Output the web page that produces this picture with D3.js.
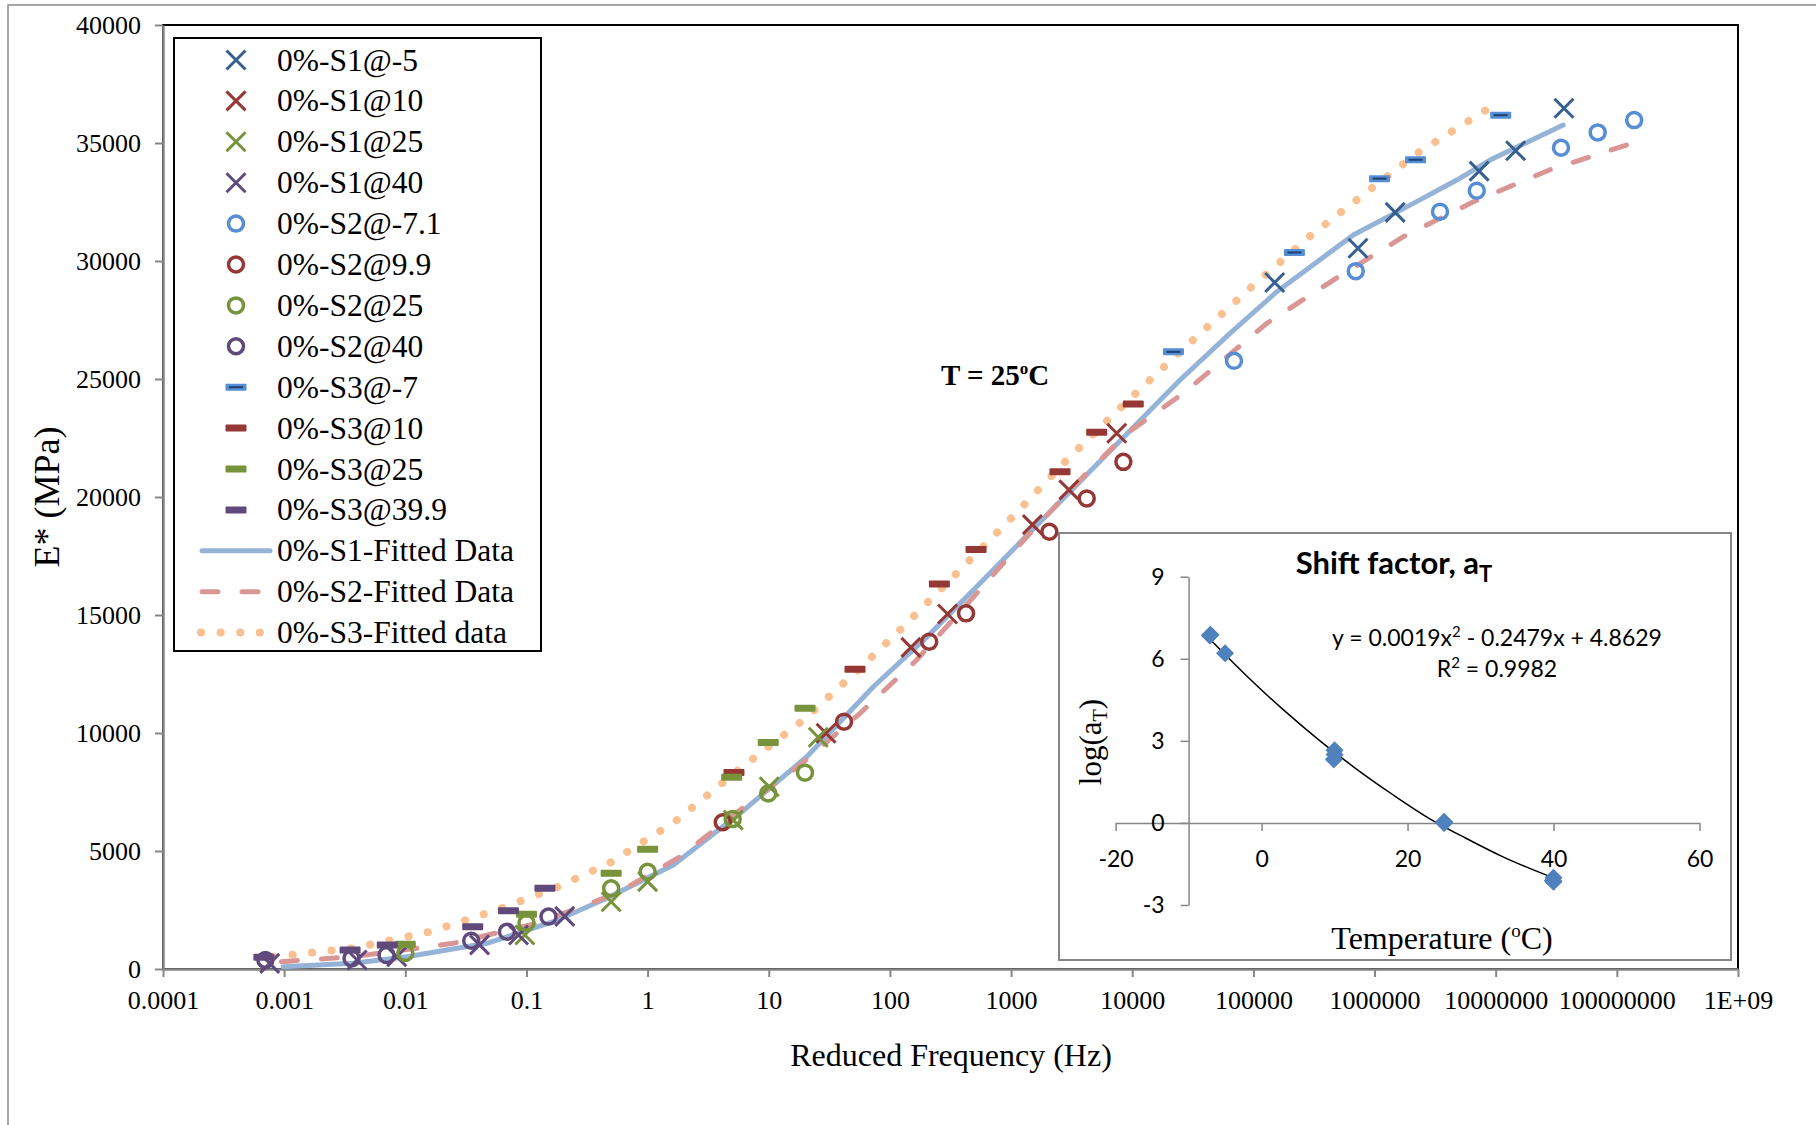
<!DOCTYPE html>
<html>
<head>
<meta charset="utf-8">
<script src="https://cdn.jsdelivr.net/npm/d3@7/dist/d3.min.js"></script>
<style>
	body { margin: 0; background: #fff; }
	svg { display: block; }
	.serif { font-family: "Liberation Serif", "Times New Roman", serif; }
	.sans { font-family: Lato, "Liberation Sans", sans-serif; }
</style>
</head>
<body>
<div id="chart"></div>
<script>
// ---- main chart data (frequency in Hz, E* in MPa) ----
const s1m5Freq = [1.5e5, 7.3e5, 1.48e6, 7.3e6, 1.46e7, 3.66e7]
const s1m5E = [29090, 30540, 32060, 33810, 34670, 36470]
const s1p10Freq = [29.7, 149, 299, 1500, 3000, 7450]
const s1p10E = [9990, 13630, 15040, 18830, 20300, 22700]
const s1p25Freq = [0.097, 0.5, 1.0, 5.1, 10.1, 25.6]
const s1p25E = [1440, 2850, 3700, 6310, 7720, 9820]
const s1p40Freq = [0.00076, 0.004, 0.0085, 0.041, 0.086, 0.207]
const s1p40E = [240, 380, 520, 1020, 1440, 2230]

const s2m71Freq = [6.92e4, 7.0e5, 3.47e6, 6.98e6, 3.46e7, 6.95e7, 1.39e8]
const s2m71E = [25770, 29570, 32090, 32980, 34800, 35450, 35970]
const s2p99Freq = [4.17, 41.8, 211, 425, 2070, 4210, 8450]
const s2p99E = [6220, 10480, 13870, 15070, 18530, 19940, 21490]
const s2p25Freq = [0.01, 0.1, 0.5, 1.0, 5.04, 9.9, 19.9]
const s2p25E = [680, 1960, 3420, 4120, 6360, 7440, 8320]
const s2p40Freq = [0.0007, 0.0036, 0.007, 0.035, 0.069, 0.152]
const s2p40E = [380, 450, 590, 1200, 1580, 2220]

const s3m7Freq = [2.19e4, 2.18e5, 1.1e6, 2.18e6, 1.1e7]
const s3m7E = [26150, 30360, 33490, 34290, 36180]
const s3p10Freq = [5.16, 51.5, 256, 514, 2535, 5090, 10200]
const s3p10E = [8330, 12700, 16310, 17780, 21070, 22740, 23940]
const s3p25Freq = [0.01, 0.1, 0.5, 1.0, 4.94, 9.9, 19.9]
const s3p25E = [1050, 2320, 4060, 5070, 8120, 9600, 11050]
const s3p399Freq = [0.00068, 0.0035, 0.0071, 0.036, 0.071, 0.142]
const s3p399E = [500, 810, 1020, 1790, 2470, 3420]

// fitted master curves
const fit1Freq = [0.00098, 0.0037, 0.0103, 0.047, 0.167, 0.46, 1.63, 5.8, 20.6, 73, 201, 714, 2540, 9020, 24800, 64100, 156000, 668000, 2.09e6, 4.78e6, 8.97e6, 3.61e7]
const fit1E = [97, 242, 521, 1089, 2004, 2996, 4407, 6597, 8995, 11961, 14054, 16919, 19800, 22668, 24956, 26935, 28698, 31100, 32443, 33430, 34277, 35760]
const fit2Freq = [0.00095, 0.0037, 0.0249, 0.122, 0.556, 1.85, 5.8, 18.1, 56.6, 166, 520, 1350, 3480, 9020, 26400, 129000, 457000, 1.73e6, 6.55e6, 2.81e7, 1.46e8]
const fit2E = [309, 521, 1089, 1936, 3207, 4758, 6737, 8643, 10834, 13092, 15918, 18317, 20579, 22697, 24393, 27358, 29193, 31028, 32511, 33867, 35053]
const fit3Freq = [0.00081, 0.0037, 0.016, 0.0568, 0.183, 0.49, 1.68, 5.61, 19.3, 58.5, 129, 367, 1045, 2880, 8450, 24800, 97000, 294000, 948000, 2.27e6, 5.89e6, 1.1e7]
const fit3E = [521, 877, 1580, 2500, 3487, 4504, 6241, 8432, 10550, 12809, 14504, 16834, 19194, 21566, 23897, 26155, 28909, 31057, 33079, 34578, 35913, 36790]

const xTickValues = [1e-4, 1e-3, 1e-2, 1e-1, 1, 10, 100, 1000, 1e4, 1e5, 1e6, 1e7, 1e8, 1e9]
const xTickLabels = ["0.0001", "0.001", "0.01", "0.1", "1", "10", "100", "1000", "10000", "100000", "1000000", "10000000", "100000000", "1E+09"]
const yTickValues = [0, 5000, 10000, 15000, 20000, 25000, 30000, 35000, 40000]

// ---- inset: shift factor ----
const shiftTemp = [-7.1, -7, -5, 9.9, 10, 10, 25, 25, 25, 40, 40, 39.9]
const shiftLogAT = [6.85, 6.88, 6.2, 2.32, 2.66, 2.5, 0.04, 0.0, 0.02, -2.0, -2.15, -2.1]
const trendTemp = [-7.1, -2, 3, 8, 13, 18, 23, 28, 33, 40]
const trendLogAT = [6.72, 5.36, 4.13, 3.0, 1.97, 1.03, 0.16, -0.56, -1.23, -2.01]
const insetXTicks = [-20, 0, 20, 40, 60]
const insetYTicks = [-3, 0, 3, 6, 9]

const W = 1816, H = 1125

const svg = d3.select("#chart").append("svg")
	.attr("width", W)
	.attr("height", H)

// outer chart frame (cut by the picture edge)
svg.append("rect")
	.attr("x", 8).attr("y", 5)
	.attr("width", W + 20).attr("height", H + 20)
	.attr("fill", "#fff")
	.attr("stroke", "#8a8a8a")
	.attr("stroke-width", 1.5)

const xs = d3.scaleLog().domain([1e-4, 1e9]).range([163, 1738])
const ys = d3.scaleLinear().domain([0, 40000]).range([969, 25])

// plot area border
svg.append("rect")
	.attr("x", 163).attr("y", 25)
	.attr("width", 1738 - 163).attr("height", 969 - 25)
	.attr("fill", "none")
	.attr("stroke", "#000")
	.attr("stroke-width", 2)

const yAxis = svg.append("g")
	.attr("transform", "translate(163,0)")
	.call(d3.axisLeft(ys).tickValues(yTickValues).tickSize(8).tickSizeOuter(0).tickPadding(14)
		.tickFormat(d => String(d)))
const xAxis = svg.append("g")
	.attr("transform", "translate(0,969)")
	.call(d3.axisBottom(xs).tickValues(xTickValues).tickSize(8).tickSizeOuter(0).tickPadding(14)
		.tickFormat((d, i) => xTickLabels[i]))

;[yAxis, xAxis].forEach(a => {
	a.select(".domain").attr("stroke", "#868686").attr("stroke-width", 2.5)
	a.selectAll(".tick line").attr("stroke", "#868686").attr("stroke-width", 2)
	a.selectAll(".tick text")
		.attr("class", "serif")
		.attr("font-size", 26)
		.attr("fill", "#000")
})

svg.append("text")
	.attr("class", "serif")
	.attr("transform", "translate(59,497) rotate(-90)")
	.attr("text-anchor", "middle")
	.attr("font-size", 36)
	.text("E* (MPa)")

svg.append("text")
	.attr("class", "serif")
	.attr("x", 951).attr("y", 1066)
	.attr("text-anchor", "middle")
	.attr("font-size", 32)
	.text("Reduced Frequency (Hz)")

// fitted lines
const fits = [
	{ f: fit1Freq, e: fit1E, color: "#95B3D7", dash: null, width: 5 },
	{ f: fit2Freq, e: fit2E, color: "#D99694", dash: "16 24", width: 5 },
	{ f: fit3Freq, e: fit3E, color: "#FAC090", dash: "0.1 19.5", width: 8 }
]
const line = d3.line().x(d => xs(d[0])).y(d => ys(d[1]))
fits.forEach(s => {
	svg.append("path")
		.datum(s.f.map((v, i) => [v, s.e[i]]))
		.attr("d", line)
		.attr("fill", "none")
		.attr("stroke", s.color)
		.attr("stroke-width", s.width)
		.attr("stroke-linecap", "round")
		.attr("stroke-linejoin", "round")
		.attr("stroke-dasharray", s.dash)
})

// measured series
const series = [
	{ name: "0%-S1@-5", f: s1m5Freq, e: s1m5E, shape: "x", color: "#376092" },
	{ name: "0%-S1@10", f: s1p10Freq, e: s1p10E, shape: "x", color: "#953735" },
	{ name: "0%-S1@25", f: s1p25Freq, e: s1p25E, shape: "x", color: "#77933C" },
	{ name: "0%-S1@40", f: s1p40Freq, e: s1p40E, shape: "x", color: "#604A7B" },
	{ name: "0%-S2@-7.1", f: s2m71Freq, e: s2m71E, shape: "o", color: "#558ED5" },
	{ name: "0%-S2@9.9", f: s2p99Freq, e: s2p99E, shape: "o", color: "#953735" },
	{ name: "0%-S2@25", f: s2p25Freq, e: s2p25E, shape: "o", color: "#77933C" },
	{ name: "0%-S2@40", f: s2p40Freq, e: s2p40E, shape: "o", color: "#604A7B" },
	{ name: "0%-S3@-7", f: s3m7Freq, e: s3m7E, shape: "bar", color: "#558ED5", inner: "#1F3F6F" },
	{ name: "0%-S3@10", f: s3p10Freq, e: s3p10E, shape: "bar", color: "#953735" },
	{ name: "0%-S3@25", f: s3p25Freq, e: s3p25E, shape: "bar", color: "#77933C" },
	{ name: "0%-S3@39.9", f: s3p399Freq, e: s3p399E, shape: "bar", color: "#604A7B" }
]

function drawMarker(g, s, cx, cy) {
	if (s.shape === "x") {
		const h = 9.5
		g.append("path")
			.attr("d", `M${cx - h},${cy - h}L${cx + h},${cy + h}M${cx - h},${cy + h}L${cx + h},${cy - h}`)
			.attr("stroke", s.color)
			.attr("stroke-width", 3)
			.attr("fill", "none")
	} else if (s.shape === "o") {
		g.append("circle")
			.attr("cx", cx).attr("cy", cy).attr("r", 7.5)
			.attr("stroke", s.color)
			.attr("stroke-width", 3.5)
			.attr("fill", "none")
	} else {
		g.append("rect")
			.attr("x", cx - 10.5).attr("y", cy - 3.5)
			.attr("width", 21).attr("height", 7)
			.attr("rx", 1)
			.attr("fill", s.color)
		if (s.inner) {
			g.append("line")
				.attr("x1", cx - 7).attr("x2", cx + 7)
				.attr("y1", cy).attr("y2", cy)
				.attr("stroke", s.inner)
				.attr("stroke-width", 2)
		}
	}
}

const marks = svg.append("g")
series.forEach(s => {
	s.f.forEach((v, i) => drawMarker(marks, s, xs(v), ys(s.e[i])))
})

// legend
const legend = svg.append("g")
legend.append("rect")
	.attr("x", 174).attr("y", 38)
	.attr("width", 367).attr("height", 613)
	.attr("fill", "#fff")
	.attr("stroke", "#000")
	.attr("stroke-width", 2)

const rowY = i => 60 + i * 40.9
const legendNames = series.map(s => s.name).concat(["0%-S1-Fitted Data", "0%-S2-Fitted Data", "0%-S3-Fitted data"])

series.forEach((s, i) => drawMarker(legend, s, 236, rowY(i)))
fits.forEach((s, i) => {
	const yy = rowY(series.length + i)
	legend.append("line")
		.attr("x1", s.dash && s.width > 6 ? 201 : 202).attr("x2", s.dash && s.width > 6 ? 262 : 270)
		.attr("y1", yy).attr("y2", yy)
		.attr("stroke", s.color)
		.attr("stroke-width", s.width)
		.attr("stroke-linecap", "round")
		.attr("stroke-dasharray", s.dash)
})
legend.selectAll("text.leg")
	.data(legendNames).enter().append("text")
	.attr("class", "serif")
	.attr("x", 277)
	.attr("y", (d, i) => rowY(i) + 10.5)
	.attr("font-size", 31.5)
	.text(d => d)

// annotation
const ann = svg.append("text")
	.attr("class", "serif")
	.attr("x", 941).attr("y", 385)
	.attr("font-size", 29)
	.attr("font-weight", "bold")
ann.append("tspan").text("T = 25")
ann.append("tspan").attr("font-size", 17).attr("dy", -11).text("o")
ann.append("tspan").attr("dy", 11).text("C")

// ---- inset chart ----
const inset = svg.append("g")
inset.append("rect")
	.attr("x", 1059).attr("y", 533)
	.attr("width", 1731 - 1059).attr("height", 960 - 533)
	.attr("fill", "#fff")
	.attr("stroke", "#868686")
	.attr("stroke-width", 2)

const ixs = d3.scaleLinear().domain([-20, 60]).range([1115.6, 1699.5])
const iys = d3.scaleLinear().domain([-3, 9]).range([905, 576.7])

const ixAxis = inset.append("g")
	.attr("transform", `translate(0,${iys(0)})`)
	.call(d3.axisBottom(ixs).tickValues(insetXTicks).tickSize(8).tickSizeOuter(0).tickPadding(20)
		.tickFormat(d => String(d)))
const iyAxis = inset.append("g")
	.attr("transform", `translate(${ixs(-10)},0)`)
	.call(d3.axisLeft(iys).tickValues(insetYTicks).tickSize(8).tickSizeOuter(0).tickPadding(16)
		.tickFormat(d => String(d)))

;[ixAxis, iyAxis].forEach(a => {
	a.select(".domain").attr("stroke", "#868686").attr("stroke-width", 1.5)
	a.selectAll(".tick line").attr("stroke", "#868686").attr("stroke-width", 1.5)
	a.selectAll(".tick text")
		.attr("class", "sans")
		.attr("font-size", 23)
		.attr("fill", "#000")
})

inset.append("path")
	.datum(trendTemp.map((t, i) => [t, trendLogAT[i]]))
	.attr("d", d3.line().x(d => ixs(d[0])).y(d => iys(d[1])).curve(d3.curveMonotoneX))
	.attr("fill", "none")
	.attr("stroke", "#000")
	.attr("stroke-width", 1.5)

inset.selectAll("path.dia")
	.data(shiftTemp.map((t, i) => [t, shiftLogAT[i]]))
	.enter().append("path")
	.attr("d", d => `M${ixs(d[0])},${iys(d[1]) - 9}l9,9l-9,9l-9,-9z`)
	.attr("fill", "#4F81BD")

const title = inset.append("text")
	.attr("class", "sans")
	.attr("x", 1394).attr("y", 574)
	.attr("text-anchor", "middle")
	.attr("font-size", 31)
	.attr("font-weight", "bold")
title.append("tspan").text("Shift factor, a")
title.append("tspan").attr("font-size", 22).attr("dy", 8).text("T")

const eq = inset.append("text")
	.attr("class", "sans")
	.attr("x", 1497).attr("y", 646)
	.attr("text-anchor", "middle")
	.attr("font-size", 23)
eq.append("tspan").text("y = 0.0019x")
eq.append("tspan").attr("font-size", 15).attr("dy", -9).text("2")
eq.append("tspan").attr("dy", 9).text(" - 0.2479x + 4.8629")

const r2 = inset.append("text")
	.attr("class", "sans")
	.attr("x", 1497).attr("y", 677)
	.attr("text-anchor", "middle")
	.attr("font-size", 23)
r2.append("tspan").text("R")
r2.append("tspan").attr("font-size", 15).attr("dy", -9).text("2")
r2.append("tspan").attr("dy", 9).text(" = 0.9982")

const iyl = inset.append("text")
	.attr("class", "serif")
	.attr("transform", "translate(1101,742) rotate(-90)")
	.attr("text-anchor", "middle")
	.attr("font-size", 31)
iyl.append("tspan").text("log(a")
iyl.append("tspan").attr("font-size", 20).attr("dy", 6).text("T")
iyl.append("tspan").attr("dy", -6).text(")")

const ixl = inset.append("text")
	.attr("class", "serif")
	.attr("x", 1442).attr("y", 949)
	.attr("text-anchor", "middle")
	.attr("font-size", 32)
ixl.append("tspan").text("Temperature (")
ixl.append("tspan").attr("font-size", 19).attr("dy", -12).text("o")
ixl.append("tspan").attr("dy", 12).text("C)")
</script>
</body>
</html>
